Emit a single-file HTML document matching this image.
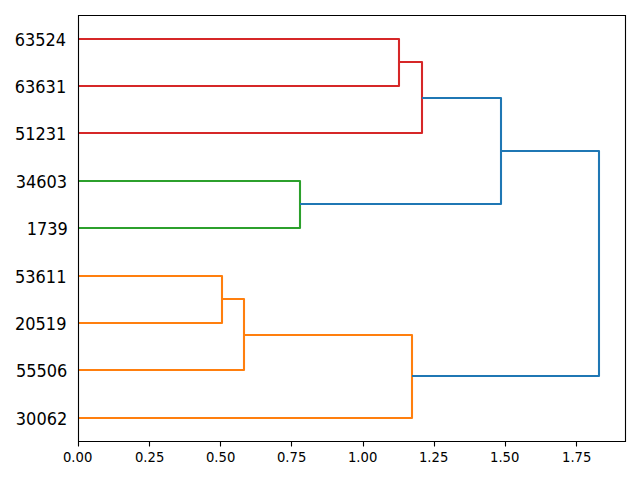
<!DOCTYPE html>
<html><head><meta charset="utf-8"><title>Dendrogram</title>
<style>html,body{margin:0;padding:0;background:#fff;width:640px;height:480px;overflow:hidden}svg{display:block}</style>
</head><body>
<svg width="640" height="480" viewBox="0 0 640 480">
<rect width="640" height="480" fill="#fff"/>
<defs><clipPath id="c"><rect x="78" y="15" width="547" height="426"/></clipPath></defs>
<g clip-path="url(#c)" fill="none" stroke-width="2.0833" stroke-linejoin="round">
<path stroke="#ff7f0e" d="M78 323L222 323L222 276L78 276 M78 370L244 370L244 299L222 299 M78 418L412 418L412 335L244 335"/>
<path stroke="#2ca02c" d="M78 228L300 228L300 181L78 181"/>
<path stroke="#d62728" d="M78 86L399 86L399 39L78 39 M78 133L422 133L422 62L399 62"/>
<path stroke="#1f77b4" d="M300 204L501 204L501 98L422 98 M412 376L599 376L599 151L501 151"/>
</g>
<path stroke="#000" stroke-width="1.1111" d="M78.5 441.5V446.5M149.5 441.5V446.5M220.5 441.5V446.5M291.5 441.5V446.5M363.5 441.5V446.5M434.5 441.5V446.5M505.5 441.5V446.5M576.5 441.5V446.5"/>
<path fill="none" stroke="#000" stroke-width="1.1111" stroke-linecap="square" d="M78.5 441.5V15.5M625.5 441.5V15.5M78.5 441.5H625.5M78.5 15.5H625.5"/>
<g font-family="'DejaVu Sans', sans-serif" fill="#000">
<text transform="translate(77.64 461.63) scale(0.950 1.000)" font-size="13.889" text-anchor="middle">0.00</text>
<text transform="translate(149.60 461.61) scale(0.950 1.000)" font-size="13.889" text-anchor="middle">0.25</text>
<text transform="translate(220.63 461.62) scale(0.950 1.000)" font-size="13.889" text-anchor="middle">0.50</text>
<text transform="translate(291.64 461.61) scale(0.950 1.000)" font-size="13.889" text-anchor="middle">0.75</text>
<text transform="translate(362.66 461.62) scale(0.950 1.000)" font-size="13.889" text-anchor="middle">1.00</text>
<text transform="translate(433.64 461.60) scale(0.950 1.000)" font-size="13.889" text-anchor="middle">1.25</text>
<text transform="translate(504.69 461.61) scale(0.950 1.000)" font-size="13.889" text-anchor="middle">1.50</text>
<text transform="translate(576.70 461.60) scale(0.950 1.000)" font-size="13.889" text-anchor="middle">1.75</text>
<text transform="translate(67.23 424.94) scale(0.970 1.040)" font-size="16.667" text-anchor="end">30062</text>
<text transform="translate(67.31 376.56) scale(0.970 1.040)" font-size="16.667" text-anchor="end">55506</text>
<text transform="translate(66.44 330.19) scale(0.970 1.040)" font-size="16.667" text-anchor="end">20519</text>
<text transform="translate(66.42 282.85) scale(0.970 1.040)" font-size="16.667" text-anchor="end">53611</text>
<text transform="translate(67.84 235.46) scale(0.970 1.040)" font-size="16.667" text-anchor="end">1739</text>
<text transform="translate(67.14 188.13) scale(0.970 1.040)" font-size="16.667" text-anchor="end">34603</text>
<text transform="translate(66.38 139.76) scale(0.970 1.040)" font-size="16.667" text-anchor="end">51231</text>
<text transform="translate(66.18 93.40) scale(0.970 1.040)" font-size="16.667" text-anchor="end">63631</text>
<text transform="translate(66.11 46.04) scale(0.970 1.040)" font-size="16.667" text-anchor="end">63524</text>
</g>
</svg>
</body></html>
